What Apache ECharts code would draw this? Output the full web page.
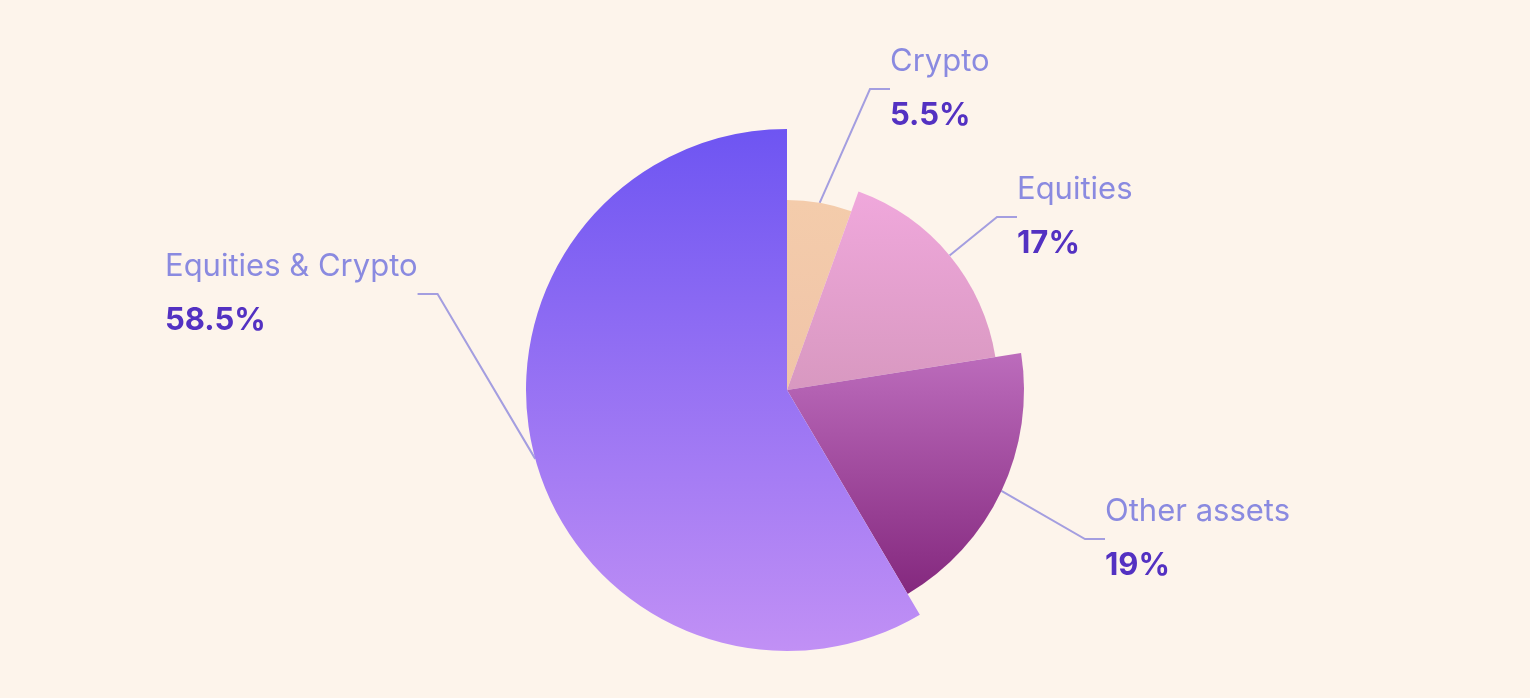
<!DOCTYPE html>
<html><head><meta charset="utf-8">
<script src="https://cdn.jsdelivr.net/npm/echarts@6/dist/echarts.min.js"></script>
<style>html,body{margin:0;background:#fdf4eb}#c{width:1530px;height:698px}</style>
</head><body><div id="c"></div>
<script>
const categories = ['Crypto', 'Equities', 'Other assets', 'Equities & Crypto'];
const values = [5.5, 17, 19, 58.5];
const radii = [190, 211, 237, 261];
const fills = [
  ['#f4ccab', '#f0c4a8'],
  ['#f0a8dc', '#d898c0'],
  ['#bc6cbc', '#84287e'],
  ['#6e55f2', '#c190f5']
];
const labelPos = [[890, 35], [1017, 163], [1105, 485], [165, 240]];
const grad = c => ({type:'linear',x:0,y:0,x2:0,y2:1,colorStops:[{offset:0,color:c[0]},{offset:1,color:c[1]}]});
const series = categories.map((name, k) => ({
  type: 'pie', center: [787, 390], radius: [0, radii[k]], startAngle: 90, clockwise: true,
  silent: true, animation: false,
  data: categories.map((n, i) => ({
    name: n, value: values[i],
    itemStyle: i === k ? {color: grad(fills[i])} : {color: 'transparent'},
    label: {show: i === k},
    labelLine: {show: i === k, length: 20, length2: 20}
  })),
  label: {
    formatter: p => '{n|' + p.name + '}\n{v|' + p.value + '%}',
    align: 'left',
    rich: {
      n: {fontFamily: 'Inter', fontSize: 31, color: '#8a8ae0', lineHeight: 54, align: 'left'},
      v: {fontFamily: 'Inter', fontSize: 31, fontWeight: 'bold', color: '#5331c2', lineHeight: 54, align: 'left'}
    }
  },
  labelLine: {lineStyle: {color: '#a49ee0', width: 2}},
  labelLayout: p => ({x: labelPos[k][0], y: labelPos[k][1], align: 'left', verticalAlign: 'top'})
}));
const chart = echarts.init(document.getElementById('c'));
chart.setOption({backgroundColor: '#fdf4eb', series});
</script></body></html>
